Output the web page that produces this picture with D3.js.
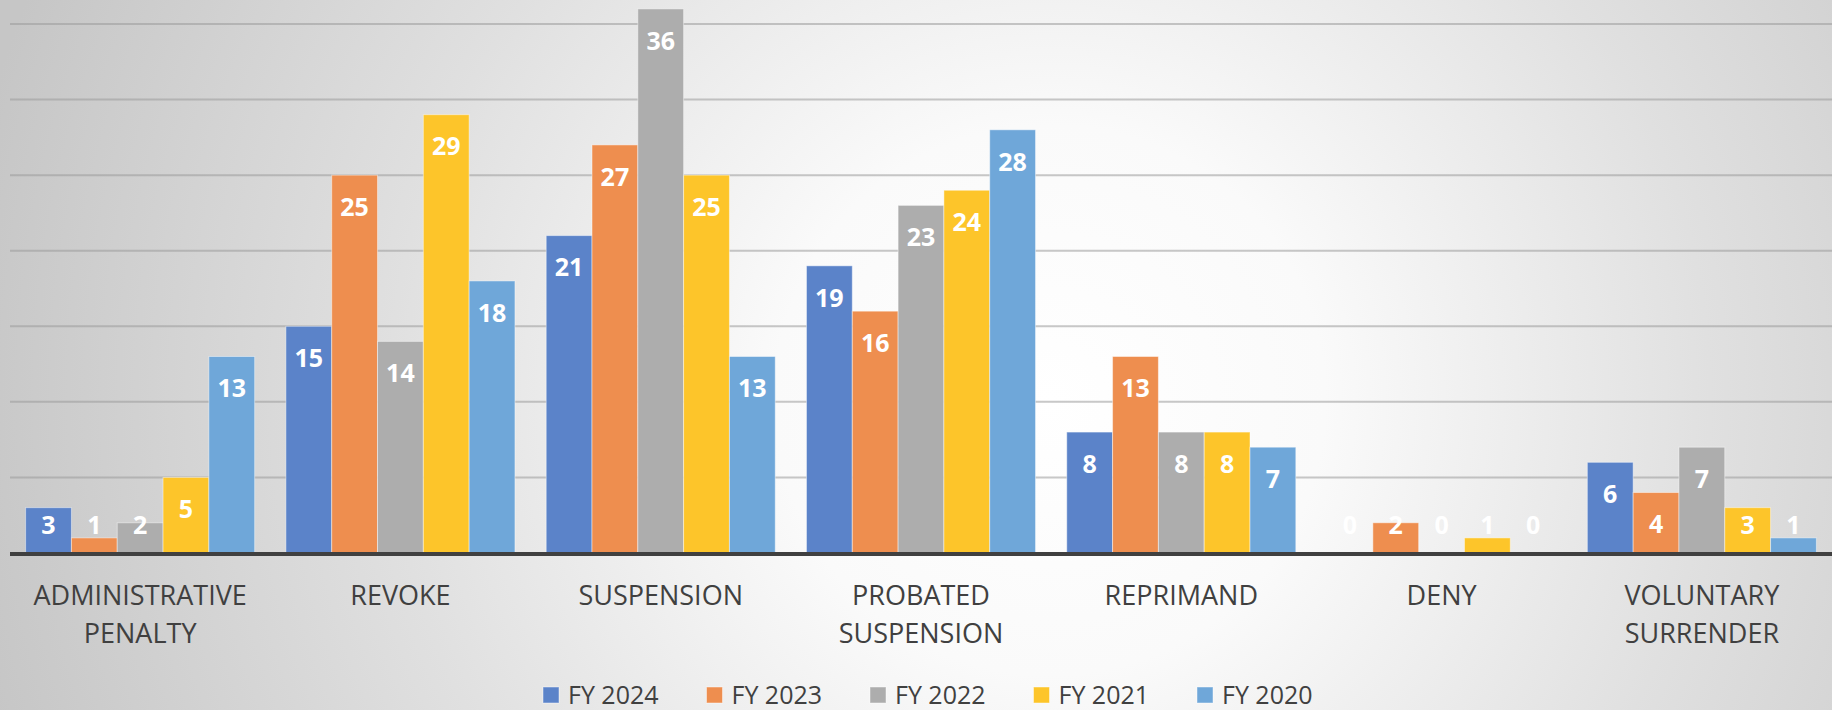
<!DOCTYPE html>
<html>
<head>
<meta charset="utf-8">
<script src="https://cdn.jsdelivr.net/npm/d3@7"></script>
<style>
  body { margin: 0; overflow: hidden; }
  svg { display: block; font-family: "Open Sans", sans-serif; }
</style>
</head>
<body>
<svg width="1832" height="710"></svg>
<script>
var width = 1832,
  height = 710;

// chart data
var categories = ["ADMINISTRATIVE PENALTY", "REVOKE", "SUSPENSION", "PROBATED SUSPENSION", "REPRIMAND", "DENY", "VOLUNTARY SURRENDER"];
var categoryLines = [["ADMINISTRATIVE", "PENALTY"], ["REVOKE"], ["SUSPENSION"], ["PROBATED", "SUSPENSION"], ["REPRIMAND"], ["DENY"], ["VOLUNTARY", "SURRENDER"]];
var seriesNames = ["FY 2024", "FY 2023", "FY 2022", "FY 2021", "FY 2020"];
var fy2024 = [3, 15, 21, 19, 8, 0, 6];
var fy2023 = [1, 25, 27, 16, 13, 2, 4];
var fy2022 = [2, 14, 36, 23, 8, 0, 7];
var fy2021 = [5, 29, 25, 24, 8, 1, 3];
var fy2020 = [13, 18, 13, 28, 7, 0, 1];
var gridTicks = [5, 10, 15, 20, 25, 30, 35];
var colors = ["#5b83c9", "#ee8e4f", "#adadad", "#fdc52a", "#6fa7d9"];

var seriesValues = [fy2024, fy2023, fy2022, fy2021, fy2020];
var table = categories.map((c, i) => ({
  cat: c,
  lines: categoryLines[i],
  values: seriesNames.map((s, j) => ({ series: s, value: seriesValues[j][i] }))
}));

var svg = d3.select("svg");

// background gradient (white centre, grey edges)
var defs = svg.append("defs");
var grad = defs.append("radialGradient")
  .attr("id", "bg")
  .attr("gradientUnits", "userSpaceOnUse")
  .attr("cx", 1050).attr("cy", 400).attr("r", 1100);
grad.append("stop").attr("offset", "0%").attr("stop-color", "#ffffff");
grad.append("stop").attr("offset", "25%").attr("stop-color", "#fafafa");
grad.append("stop").attr("offset", "60%").attr("stop-color", "#e0e0e0");
grad.append("stop").attr("offset", "100%").attr("stop-color", "#c6c6c6");
svg.append("rect").attr("width", width).attr("height", height).attr("fill", "url(#bg)");

var baseY = 553;
var y = d3.scaleLinear().domain([0, 35]).range([baseY, 24]);
var x0 = d3.scaleBand().domain(categories).range([10, 1832]).paddingInner(0.12).paddingOuter(0.06);
var x1 = d3.scaleBand().domain(seriesNames).range([0, x0.bandwidth()]);
var color = d3.scaleOrdinal().domain(seriesNames).range(colors);

// gridlines
svg.append("g")
  .selectAll("line")
  .data(gridTicks)
  .enter()
  .append("line")
  .attr("x1", 10)
  .attr("x2", width)
  .attr("y1", (d) => y(d))
  .attr("y2", (d) => y(d))
  .attr("stroke", "#9a9a9a")
  .attr("stroke-opacity", 0.55)
  .attr("stroke-width", 2);

// bars
var groups = svg.append("g")
  .selectAll("g")
  .data(table)
  .enter()
  .append("g")
  .attr("transform", (d) => "translate(" + x0(d.cat) + ",0)");

groups.selectAll("rect")
  .data((d) => d.values)
  .enter()
  .append("rect")
  .attr("x", (d) => x1(d.series))
  .attr("y", (d) => y(d.value))
  .attr("width", x1.bandwidth())
  .attr("height", (d) => baseY - y(d.value))
  .attr("fill", (d) => color(d.series))
  .attr("stroke", "#ffffff")
  .attr("stroke-opacity", 0.45)
  .attr("stroke-width", 1);

// value labels, inside end, clamped so small bars show label above
groups.selectAll("text")
  .data((d) => d.values)
  .enter()
  .append("text")
  .attr("x", (d) => x1(d.series) + x1.bandwidth() / 2)
  .attr("y", (d) => Math.min(y(d.value) + 32, 525))
  .attr("dy", "0.35em")
  .attr("text-anchor", "middle")
  .attr("fill", "#ffffff")
  .attr("font-weight", "bold")
  .attr("font-size", 25)
  .text((d) => d.value);

// baseline
svg.append("line")
  .attr("x1", 10)
  .attr("x2", width)
  .attr("y1", baseY + 1)
  .attr("y2", baseY + 1)
  .attr("stroke", "#404040")
  .attr("stroke-width", 4);

// category labels
var catLabels = svg.append("g")
  .selectAll("text")
  .data(table)
  .enter()
  .append("text")
  .attr("x", (d) => x0(d.cat) + x0.bandwidth() / 2)
  .attr("y", 605)
  .attr("text-anchor", "middle")
  .attr("fill", "#404040")
  .attr("font-size", 27);

catLabels.selectAll("tspan")
  .data((d) => d.lines)
  .enter()
  .append("tspan")
  .attr("x", function () { return d3.select(this.parentNode).attr("x"); })
  .attr("dy", (d, i) => (i === 0 ? 0 : 38))
  .text((d) => d);

// legend
var legendStep = 163.5;
var legendX = 543;
var legend = svg.append("g")
  .selectAll("g")
  .data(seriesNames)
  .enter()
  .append("g")
  .attr("transform", (d, i) => "translate(" + (legendX + i * legendStep) + ",695)");

legend.append("rect")
  .attr("x", 0)
  .attr("y", -8)
  .attr("width", 16)
  .attr("height", 16)
  .attr("fill", (d) => color(d))
  .attr("stroke", "#ffffff")
  .attr("stroke-opacity", 0.45);

legend.append("text")
  .attr("x", 25)
  .attr("y", 0)
  .attr("dy", "0.35em")
  .attr("fill", "#404040")
  .attr("font-size", 25)
  .text((d) => d);
</script>
</body>
</html>
